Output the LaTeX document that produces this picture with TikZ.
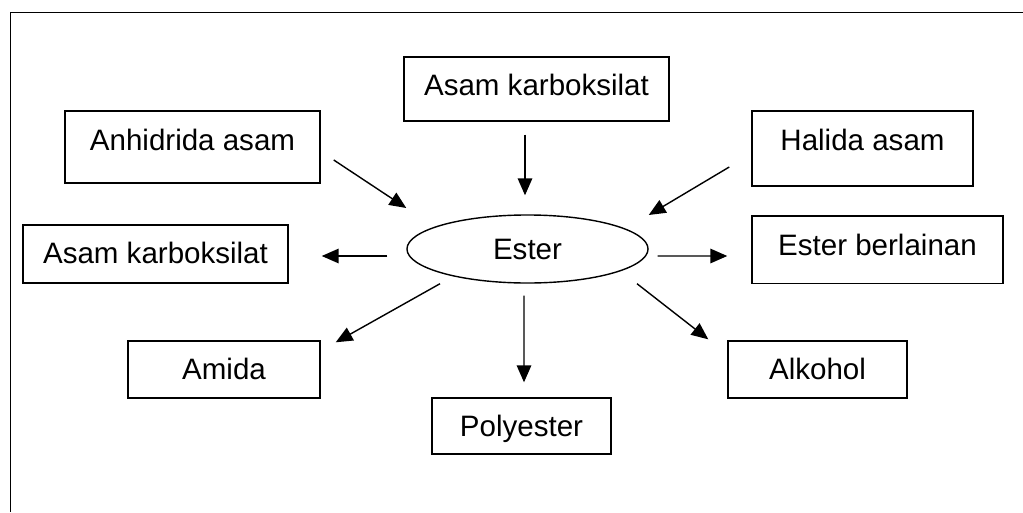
\documentclass[tikz,border=0pt]{standalone}
\usepackage{fontspec}
\setmainfont{Liberation Sans}
\usetikzlibrary{shapes,arrows.meta,backgrounds}
\usetikzlibrary{positioning, shapes.geometric}
\tikzset{
  sqbox/.style={ draw, rectangle, line width=1pt, inner sep=0pt, text height=0.52cm, text depth=0cm, font=\fontsize{21}{25}\selectfont }
}
\tikzset{
  ellbox/.style={ draw, ellipse, line width=1pt, inner sep=0pt, text height=0.52cm, text depth=0cm, font=\fontsize{21}{25}\selectfont }
}
\tikzset{
  lift/.style={ text depth=#1 }
}
\tikzset{
  arr/.style={ -{Triangle[length=0.42cm,width=0.36cm]}, line width=1pt }
}

\begin{document}
\begin{tikzpicture}[x=0.025cm, y=-0.025cm]
      \useasboundingbox (0,0) rectangle (1023,512);
      % frame
      \draw[line width=1.4pt] (1023,12.5) -- (10.5,12.5) -- (10.5,512);

      \node[sqbox, lift=0.2cm, minimum width=6.625cm, minimum height=1.6cm] (acid1) at (536.5,89) {Asam karboksilat};
      \node[sqbox, lift=0.325cm, minimum width=6.375cm, minimum height=1.79cm] (anh1) at (192.5,147) {Anhidrida asam};
      \node[sqbox, lift=0.4cm, minimum width=5.525cm, minimum height=1.875cm] (hal1) at (862.5,148.5) {Halida asam};

      \node[ellbox, minimum width=6.025cm, minimum height=1.7cm] (est1) at (527.5,249) {Ester};
      \node[sqbox, lift=0.05cm, minimum width=6.625cm, minimum height=1.45cm] (acid2) at (155.5,254) {Asam karboksilat};
      \node[sqbox, lift=0.235cm, minimum width=6.275cm, minimum height=1.675cm] (est2) at (877.5,249.7) {Ester berlainan};

      \node[sqbox, minimum width=4.8cm, minimum height=1.425cm] (amd1) at (224,369.5) {Amida};
      \node[sqbox, minimum width=4.475cm, minimum height=1.4cm] (pol1) at (521.5,426) {Polyester};
      \node[sqbox, minimum width=4.475cm, minimum height=1.425cm] (alk1) at (817.5,369.5) {Alkohol};

      % into the ester
      \draw[arr] ([shift={(-11.5,13)}]acid1.south) -- ([shift={(-2.5,-19)}]est1.north);
      \draw[arr] ([shift={(13,13)}]anh1.east) -- ([shift={(0,-41)}]est1.west);
      \draw[arr] ([shift={(-22,18.5)}]hal1.west) -- ([shift={(0,-34)}]est1.east);

      % out of the ester
      \draw[arr] ([shift={(-19,7)}]est1.west) -- ([shift={(33,2)}]acid2.east);
      \draw[arr] ([shift={(9,7)}]est1.east) -- ([shift={(-24,6.3)}]est2.west);
      \draw[arr] ([shift={(-87.5,0)}]est1.south) -- ([shift={(15,2)}]amd1.north east);
      \draw[arr] ([shift={(-3.5,12)}]est1.south) -- ([shift={(2.5,-15)}]pol1.north);
      \draw[arr] ([shift={(109.5,0)}]est1.south) -- ([shift={(-19,-1)}]alk1.north west);
\end{tikzpicture}
\end{document}
